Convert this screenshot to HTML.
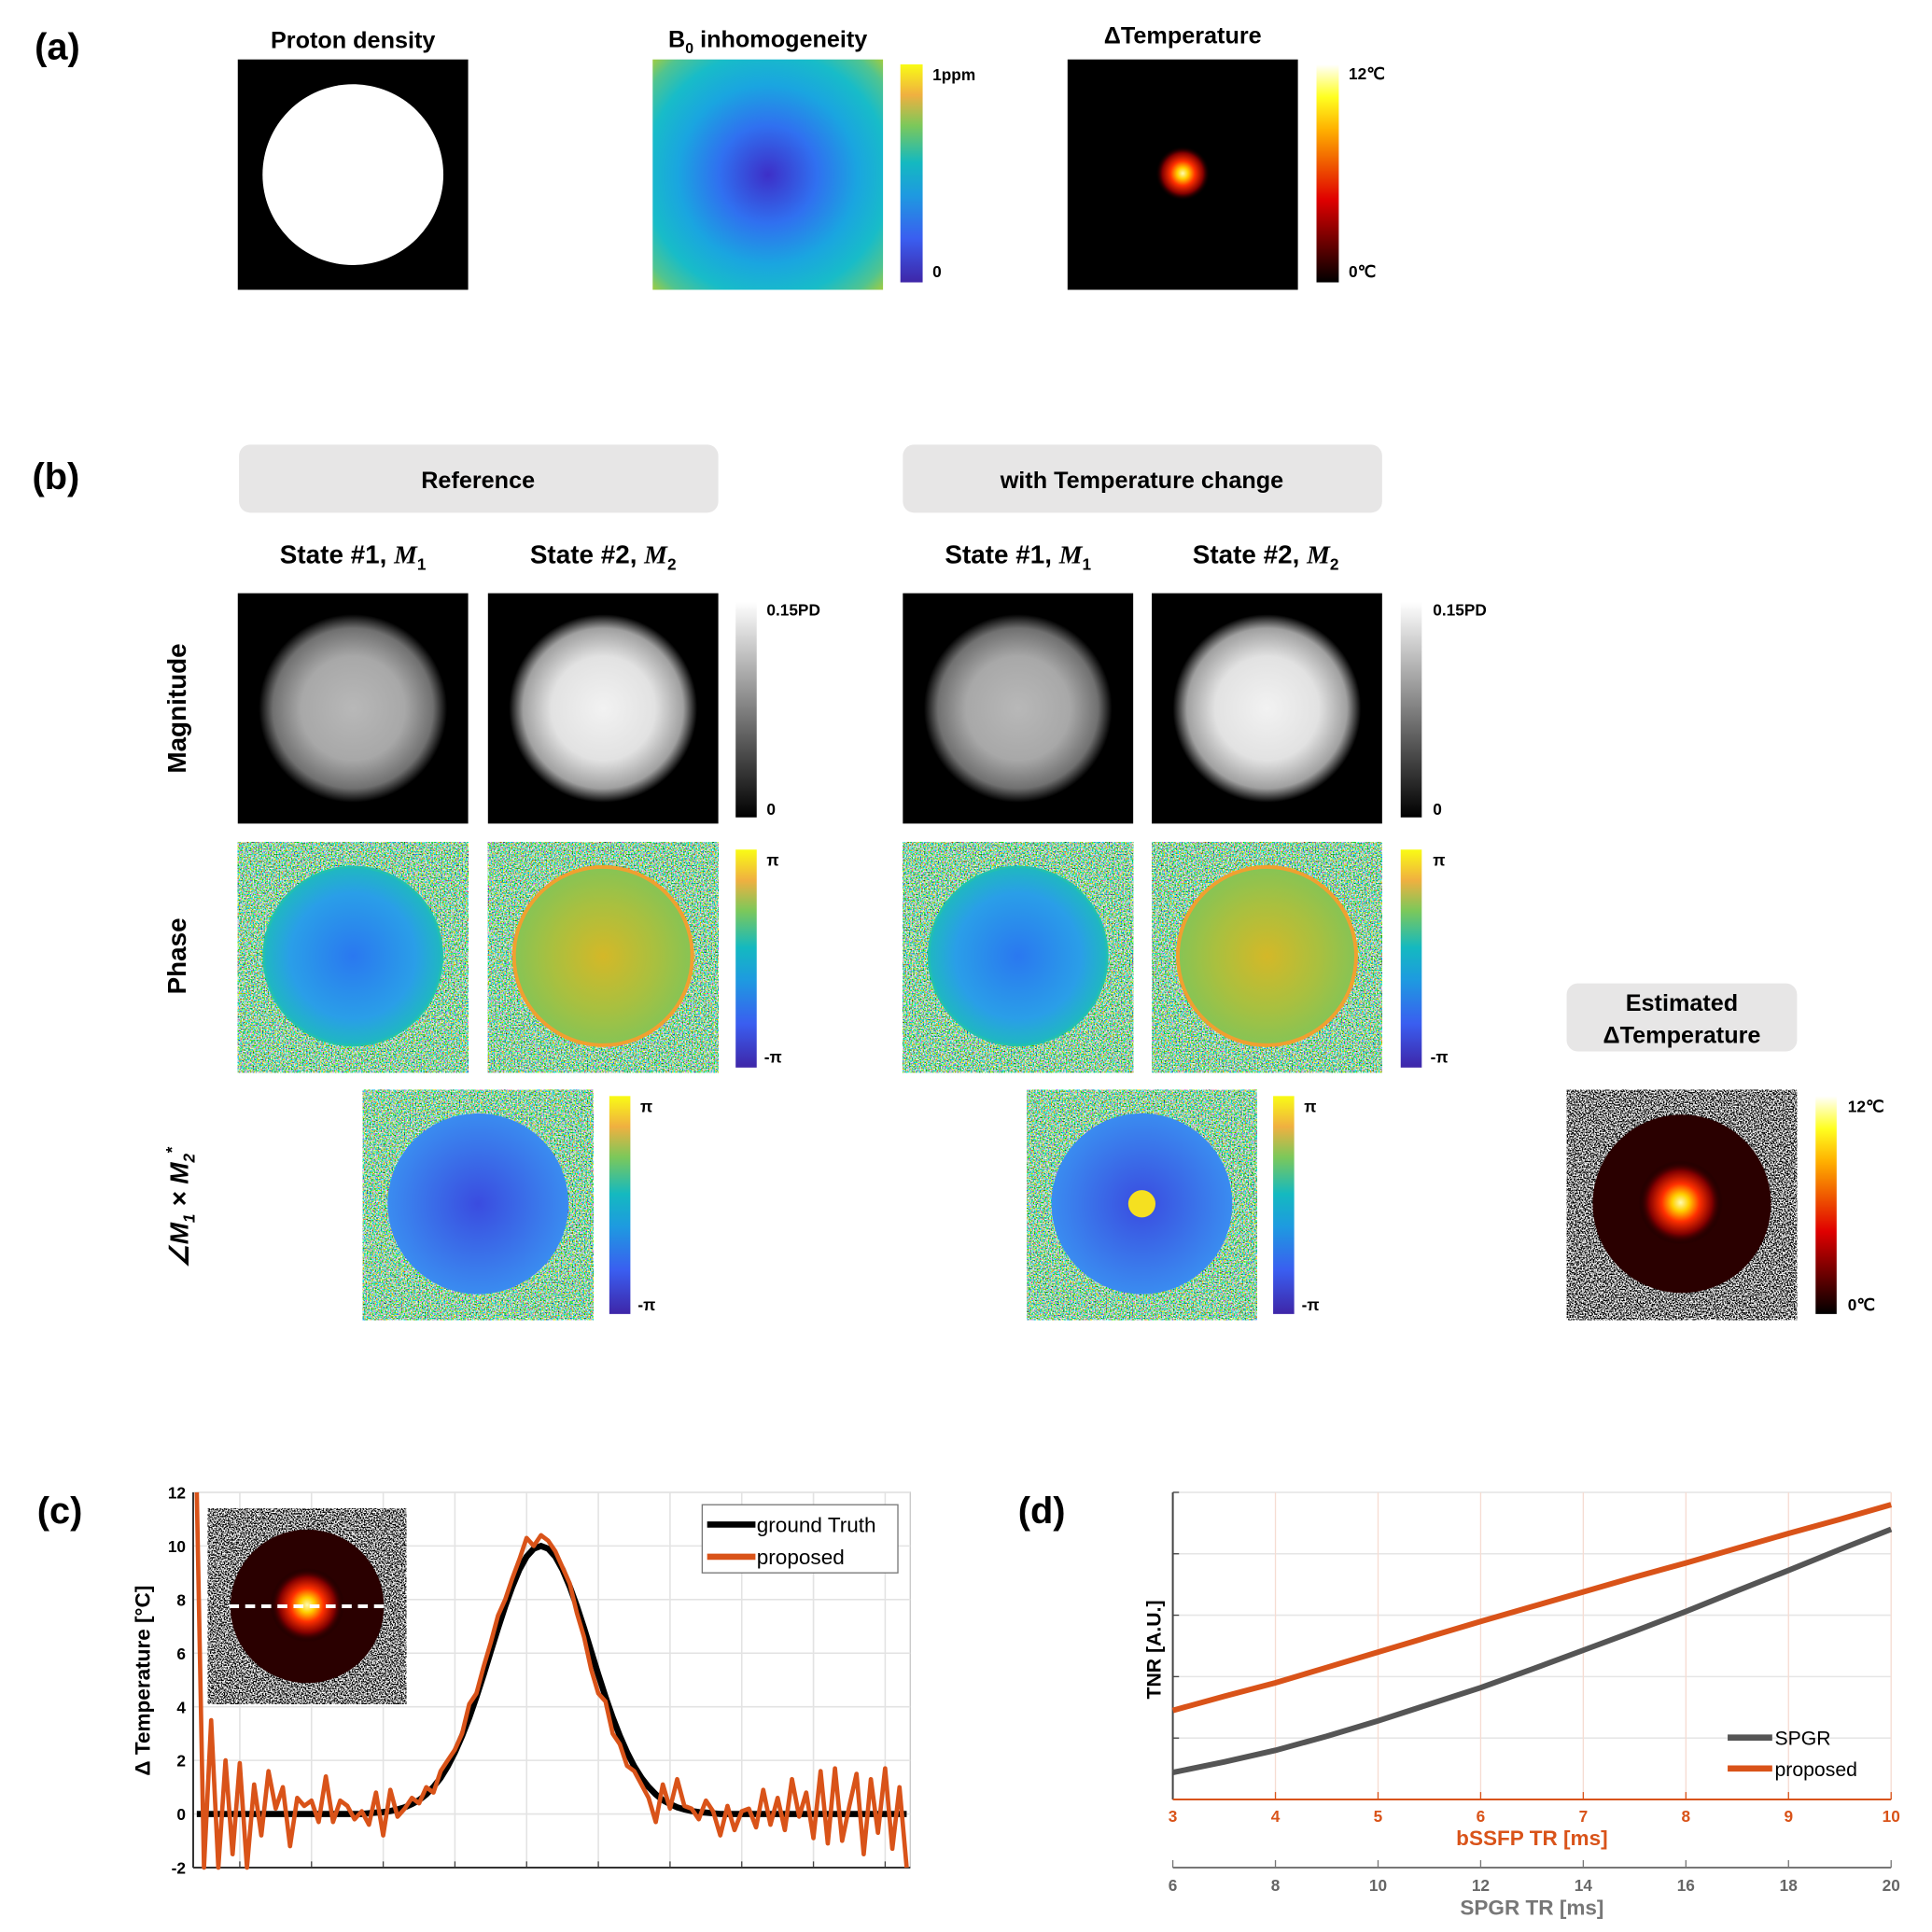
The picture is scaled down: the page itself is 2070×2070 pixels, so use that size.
<!DOCTYPE html>
<html><head><meta charset="utf-8"><style>
html,body{margin:0;padding:0;background:#fff;}
svg{display:block;}
text{font-family:"Liberation Sans",sans-serif;}
.b{font-weight:bold;}
</style></head><body>
<svg id="fig" width="2070" height="2070" viewBox="0 0 1560 1560" xmlns="http://www.w3.org/2000/svg">
<defs>
<linearGradient id="parula" x1="0" y1="1" x2="0" y2="0">
<stop offset="0" stop-color="#3e26a8"/><stop offset="0.2" stop-color="#3a5ef0"/><stop offset="0.4" stop-color="#1e9ae0"/><stop offset="0.55" stop-color="#14b9c0"/><stop offset="0.72" stop-color="#7cc85a"/><stop offset="0.86" stop-color="#f0b040"/><stop offset="1" stop-color="#f9fb15"/></linearGradient>
<linearGradient id="hot" x1="0" y1="1" x2="0" y2="0">
<stop offset="0" stop-color="#000"/><stop offset="0.38" stop-color="#e00000"/><stop offset="0.7" stop-color="#ffb000"/><stop offset="0.85" stop-color="#ffff20"/><stop offset="1" stop-color="#fff"/></linearGradient>
<linearGradient id="gray" x1="0" y1="1" x2="0" y2="0"><stop offset="0" stop-color="#000"/><stop offset="1" stop-color="#fff"/></linearGradient>
<radialGradient id="b0g" cx="0.5" cy="0.5" r="0.707">
<stop offset="0" stop-color="#3d2fc8"/><stop offset="0.3" stop-color="#3070f0"/><stop offset="0.55" stop-color="#1aa5e0"/><stop offset="0.75" stop-color="#18bcc8"/><stop offset="0.9" stop-color="#50c490"/><stop offset="1" stop-color="#a0cc40"/></radialGradient>
<radialGradient id="hotspot"><stop offset="0" stop-color="#fffbb0"/><stop offset="0.2" stop-color="#ffd000"/><stop offset="0.45" stop-color="#ff3000"/><stop offset="0.75" stop-color="#800000"/><stop offset="1" stop-color="#000" stop-opacity="0"/></radialGradient>
<radialGradient id="mag1"><stop offset="0" stop-color="#b8b8b8"/><stop offset="0.55" stop-color="#a8a8a8"/><stop offset="0.85" stop-color="#707070"/><stop offset="1" stop-color="#000"/></radialGradient>
<radialGradient id="mag2"><stop offset="0" stop-color="#f2f2f2"/><stop offset="0.55" stop-color="#e2e2e2"/><stop offset="0.85" stop-color="#a0a0a0"/><stop offset="1" stop-color="#000"/></radialGradient>
<radialGradient id="ph1"><stop offset="0" stop-color="#2a78f0"/><stop offset="0.7" stop-color="#2a9ee8"/><stop offset="1" stop-color="#1fb8c0"/></radialGradient>
<radialGradient id="ph2"><stop offset="0" stop-color="#d4b828"/><stop offset="0.6" stop-color="#a8c040"/><stop offset="1" stop-color="#86c455"/></radialGradient>
<radialGradient id="ph3"><stop offset="0" stop-color="#3a4ce0"/><stop offset="1" stop-color="#3a8cf0"/></radialGradient>
<filter id="nParula" x="0" y="0" width="1" height="1"><feTurbulence type="fractalNoise" baseFrequency="0.9" numOctaves="1" seed="3"/><feColorMatrix type="matrix" values="3.5 0 0 0 -1.4  0 2.5 0 0 -0.6  0 0 3.5 0 -1.3  0 0 0 0 1"/></filter>
<filter id="nBW" x="0" y="0" width="1" height="1"><feTurbulence type="fractalNoise" baseFrequency="0.9" numOctaves="1" seed="7"/><feColorMatrix type="matrix" values="5 0 0 0 -2.2  5 0 0 0 -2.2  5 0 0 0 -2.2  0 0 0 0 1"/></filter>
</defs>

<!-- (a) -->
<text x="28" y="48" font-size="30" class="b">(a)</text>
<g>
<text x="285" y="39" font-size="19" class="b" text-anchor="middle">Proton density</text>
<rect x="192" y="48" width="186" height="186" fill="#000"/><circle cx="285" cy="141" r="73" fill="#fff"/></g>
<g>
<text x="620" y="38" font-size="19" class="b" text-anchor="middle">B<tspan font-size="12" dy="5">0</tspan><tspan dy="-5"> inhomogeneity</tspan></text>
<rect x="527" y="48" width="186" height="186" fill="url(#b0g)"/>
<rect x="727" y="52" width="18" height="176" fill="url(#parula)"/>
<text x="753" y="65" font-size="13" class="b">1ppm</text>
<text x="753" y="224" font-size="13" class="b">0</text></g>
<g>
<text x="955" y="35" font-size="19" class="b" text-anchor="middle">ΔTemperature</text>
<rect x="862" y="48" width="186" height="186" fill="#000"/><circle cx="955" cy="140" r="22" fill="url(#hotspot)"/>
<rect x="1063" y="52" width="18" height="176" fill="url(#hot)"/>
<text x="1089" y="64" font-size="13" class="b">12℃</text>
<text x="1089" y="224" font-size="13" class="b">0℃</text></g>

<!-- (b) -->
<text x="26" y="395" font-size="30" class="b">(b)</text>
<rect x="193" y="359" width="387" height="55" rx="9" fill="#e7e6e6"/>
<text x="386" y="394" font-size="19" class="b" text-anchor="middle">Reference</text>
<rect x="729" y="359" width="387" height="55" rx="9" fill="#e7e6e6"/>
<text x="922" y="394" font-size="19" class="b" text-anchor="middle">with Temperature change</text>
<g font-size="21" class="b" text-anchor="middle">
<text x="285" y="455">State #1, <tspan font-family="Liberation Serif" font-style="italic">M</tspan><tspan font-size="13" dy="5">1</tspan></text>
<text x="487" y="455">State #2, <tspan font-family="Liberation Serif" font-style="italic">M</tspan><tspan font-size="13" dy="5">2</tspan></text>
<text x="822" y="455">State #1, <tspan font-family="Liberation Serif" font-style="italic">M</tspan><tspan font-size="13" dy="5">1</tspan></text>
<text x="1022" y="455">State #2, <tspan font-family="Liberation Serif" font-style="italic">M</tspan><tspan font-size="13" dy="5">2</tspan></text>
</g>
<g font-size="21" class="b" text-anchor="middle">
<text transform="translate(150,572) rotate(-90)">Magnitude</text>
<text transform="translate(150,772) rotate(-90)">Phase</text>
<text transform="translate(152,975) rotate(-90)" font-family="Liberation Serif" font-style="italic">∠M<tspan font-size="13" dy="5">1</tspan><tspan dy="-5"> × M</tspan><tspan font-size="13" dy="5">2</tspan><tspan font-size="13" dy="-14">*</tspan></text>
</g>

<g>
<rect x="192" y="479" width="186" height="186" fill="#000"/><circle cx="285" cy="572" r="76" fill="url(#mag1)"/>
<rect x="394" y="479" width="186" height="186" fill="#000"/><circle cx="487" cy="572" r="76" fill="url(#mag2)"/>
<rect x="729" y="479" width="186" height="186" fill="#000"/><circle cx="822" cy="572" r="76" fill="url(#mag1)"/>
<rect x="930" y="479" width="186" height="186" fill="#000"/><circle cx="1023" cy="572" r="76" fill="url(#mag2)"/>
<rect x="594" y="486" width="17" height="174" fill="url(#gray)"/><rect x="1131" y="486" width="17" height="174" fill="url(#gray)"/>
<g font-size="13" class="b"><text x="619" y="497">0.15PD</text><text x="619" y="658">0</text><text x="1157" y="497">0.15PD</text><text x="1157" y="658">0</text></g>
</g>
<g>
<rect x="192" y="680" width="186" height="186" filter="url(#nParula)"/><circle cx="285" cy="772" r="72" fill="url(#ph1)" stroke="#22c0b0" stroke-width="2"/>
<rect x="394" y="680" width="186" height="186" filter="url(#nParula)"/><circle cx="487" cy="772" r="72" fill="url(#ph2)" stroke="#f0a030" stroke-width="3"/>
<rect x="729" y="680" width="186" height="186" filter="url(#nParula)"/><circle cx="822" cy="772" r="72" fill="url(#ph1)" stroke="#22c0b0" stroke-width="2"/>
<rect x="930" y="680" width="186" height="186" filter="url(#nParula)"/><circle cx="1023" cy="772" r="72" fill="url(#ph2)" stroke="#f0a030" stroke-width="3"/>
<rect x="594" y="686" width="17" height="176" fill="url(#parula)"/><rect x="1131" y="686" width="17" height="176" fill="url(#parula)"/>
<g font-size="13" class="b"><text x="619" y="699">π</text><text x="617" y="858">-π</text><text x="1157" y="699">π</text><text x="1155" y="858">-π</text></g>
</g>
<g>
<rect x="293" y="880" width="186" height="186" filter="url(#nParula)"/><circle cx="386" cy="972" r="73" fill="url(#ph3)"/>
<rect x="829" y="880" width="186" height="186" filter="url(#nParula)"/><circle cx="922" cy="972" r="73" fill="url(#ph3)"/><circle cx="922" cy="972" r="11" fill="#f5e020"/>
<rect x="492" y="885" width="17" height="176" fill="url(#parula)"/><rect x="1028" y="885" width="17" height="176" fill="url(#parula)"/>
<g font-size="13" class="b"><text x="517" y="898">π</text><text x="515" y="1058">-π</text><text x="1053" y="898">π</text><text x="1051" y="1058">-π</text></g>
</g>
<g>
<rect x="1265" y="794" width="186" height="55" rx="9" fill="#e7e6e6"/>
<text x="1358" y="816" font-size="19" class="b" text-anchor="middle">Estimated</text>
<text x="1358" y="842" font-size="19" class="b" text-anchor="middle">ΔTemperature</text>
<rect x="1265" y="880" width="186" height="186" filter="url(#nBW)"/>
<circle cx="1358" cy="972" r="72" fill="#2a0000"/><circle cx="1357" cy="971" r="34" fill="url(#hotspot)"/>
<rect x="1466" y="885" width="17" height="176" fill="url(#hot)"/>
<g font-size="13" class="b"><text x="1492" y="898">12℃</text><text x="1492" y="1058">0℃</text></g>
</g>

<text x="30" y="1230" font-size="30" class="b">(c)</text>
<g id="chartC"></g>
<text x="822" y="1230" font-size="30" class="b">(d)</text>
<g id="chartD"></g>
</svg>
<script>
// ---- chart (c) data ----
const cYTicks = [-2,0,2,4,6,8,10,12];
const cXGrid = [0,20,40,60,80,100,120,140,160,180];
const groundTruth = [0,0,0,0,0,0,0,0,0,0,0,0,0,0,0,0,0,0,0,0,0,0,0,0,
0.03,0.05,0.07,0.11,0.17,0.25,0.37,0.52,0.73,1.01,1.35,1.78,2.30,2.91,3.60,4.37,5.20,6.07,6.93,7.75,8.49,9.12,9.6,9.9,10,
9.9,9.6,9.12,8.49,7.75,6.93,6.07,5.20,4.37,3.60,2.91,2.30,1.78,1.35,1.01,0.73,0.52,0.37,0.25,0.17,0.11,0.07,0.05,0.03,
0,0,0,0,0,0,0,0,0,0,0,0,0,0,0,0,0,0,0,0,0,0,0,0,0,0,0];
const proposed = [12,-2.2,3.5,-2,2.0,-1.5,1.9,-2.1,1.1,-0.8,1.6,0.2,1.0,-1.2,0.6,0.3,0.5,-0.3,1.4,-0.3,0.5,0.3,-0.2,0.1,-0.4,0.8,-0.8,0.9,-0.1,
0.2,0.6,0.4,1.0,0.8,1.6,2.0,2.4,3.0,4.1,4.5,5.5,6.4,7.4,8.0,8.8,9.5,10.3,10.0,10.4,10.2,9.8,9.2,8.6,7.5,6.6,5.4,4.5,4.2,3.0,2.6,1.8,1.6,1.1,0.6,-0.3,1.1,0.2,1.3,0.3,0.2,-0.2,0.5,0.1,-0.8,0.3,-0.6,0.1,0.2,-0.5,0.9,-0.4,0.6,-0.6,1.3,-0.1,0.8,-0.9,1.6,-1.1,1.7,-1.0,0.3,1.5,-1.5,1.3,-0.7,1.7,-1.3,1.0,-2.0];
// ---- chart (d) data ----
const dX = [3,3.5,4,4.5,5,5.5,6,6.5,7,7.5,8,8.5,9,9.5,10];
const dTopTicks = [3,4,5,6,7,8,9,10];
const dSpgrTicks = [6,8,10,12,14,16,18,20];
const spgr = [0.44,0.61,0.8,1.03,1.28,1.55,1.82,2.12,2.43,2.74,3.06,3.4,3.73,4.07,4.4];
const tnrProposed = [1.45,1.68,1.9,2.15,2.4,2.65,2.9,3.14,3.38,3.62,3.85,4.09,4.33,4.56,4.8];

const NS="http://www.w3.org/2000/svg";
function mk(tag,attrs,parent){const e=document.createElementNS(NS,tag);for(const k in attrs)e.setAttribute(k,attrs[k]);parent.appendChild(e);return e;}

(function(){
const g=document.getElementById('chartC');
const L=156,R=735,T=1205,B=1508;
const xs=v=>L+(v+13)/200*(R-L);
const ys=v=>B-(v+2)/14*(B-T);
mk('rect',{x:L,y:T,width:R-L,height:B-T,fill:'#fff',stroke:'#c8c8c8','stroke-width':1},g);
cYTicks.forEach(t=>{const l=mk('line',{x1:L,x2:R,y1:ys(t),y2:ys(t),stroke:'#e3e3e3','stroke-width':1.2},g);


const tx=mk('text',{x:L-6,y:ys(t)+5,'font-size':13,'font-weight':'bold','text-anchor':'end'},g);tx.textContent=t;

});
cXGrid.forEach(t=>{const l=mk('line',{x1:xs(t),x2:xs(t),y1:T,y2:B,stroke:'#e3e3e3','stroke-width':1.2},g);


mk('line',{x1:xs(t),x2:xs(t),y1:B,y2:B-5,stroke:'#444'},g);});
mk('line',{x1:L,x2:L,y1:T,y2:B,stroke:'#333','stroke-width':1.5},g);
mk('line',{x1:L,x2:R,y1:B,y2:B,stroke:'#333','stroke-width':1.5},g);
const yl=mk('text',{transform:'translate(121,1357) rotate(-90)','font-size':17,'font-weight':'bold','text-anchor':'middle'},g);yl.textContent='Δ Temperature   [°C]';


const pts=a=>a.map((v,i)=>xs(-12+2*i).toFixed(1)+','+ys(Math.max(-2,Math.min(12,v))).toFixed(1)).join(' ');
const gt=mk('polyline',{points:pts(groundTruth),fill:'none',stroke:'#000','stroke-width':5},g);


const pr=mk('polyline',{points:pts(proposed),fill:'none',stroke:'#d95319','stroke-width':3.5,'stroke-linejoin':'round'},g);


const ins=mk('g',{},g);


mk('rect',{x:168,y:1218,width:160,height:158,filter:'url(#nBW)'},ins);
mk('circle',{cx:248,cy:1297,r:62,fill:'#2a0000'},ins);
mk('circle',{cx:248,cy:1296,r:30,fill:'url(#hotspot)'},ins);
mk('line',{x1:185,x2:312,y1:1297,y2:1297,stroke:'#fff','stroke-width':3,'stroke-dasharray':'8,5'},ins);
const lg=mk('g',{},g);


mk('rect',{x:567,y:1215,width:158,height:55,fill:'#fff',stroke:'#777','stroke-width':1},lg);
mk('line',{x1:571,x2:610,y1:1231,y2:1231,stroke:'#000','stroke-width':5},lg);
mk('line',{x1:571,x2:610,y1:1257,y2:1257,stroke:'#d95319','stroke-width':5},lg);
const t1=mk('text',{x:611,y:1237,'font-size':17},lg);t1.textContent='ground Truth';
const t2=mk('text',{x:611,y:1263,'font-size':17},lg);t2.textContent='proposed';
})();

(function(){
const g=document.getElementById('chartD');
const L=947,R=1527,T=1205,B=1453;
const xs=v=>L+(v-3)/7*(R-L);
const ys=v=>B-v/5*(B-T);
[0,1,2,3,4,5].forEach(t=>{const l=mk('line',{x1:L,x2:R,y1:ys(t),y2:ys(t),stroke:'#e6e6e6','stroke-width':1.2},g);


mk('line',{x1:L,x2:L+5,y1:ys(t),y2:ys(t),stroke:'#444'},g);});
dTopTicks.forEach(t=>{const l=mk('line',{x1:xs(t),x2:xs(t),y1:T,y2:B,stroke:'#f6dcd2','stroke-width':1},g);


mk('line',{x1:xs(t),x2:xs(t),y1:B,y2:B-6,stroke:'#d95319'},g);
const tx=mk('text',{x:xs(t),y:B+18,'font-size':13,'font-weight':'bold',fill:'#d95319','text-anchor':'middle'},g);tx.textContent=t;

});
mk('line',{x1:L,x2:L,y1:T,y2:B,stroke:'#444','stroke-width':1.5},g);
mk('line',{x1:L,x2:R,y1:B,y2:B,stroke:'#d95319','stroke-width':1.5},g);
const xt=mk('text',{x:1237,y:1490,'font-size':17,'font-weight':'bold',fill:'#d95319','text-anchor':'middle'},g);xt.textContent='bSSFP TR   [ms]';


const SB=1508;
mk('line',{x1:L,x2:R,y1:SB,y2:SB,stroke:'#777','stroke-width':1.5},g);
dSpgrTicks.forEach(t=>{const x=L+(t-6)/14*(R-L);mk('line',{x1:x,x2:x,y1:SB,y2:SB-6,stroke:'#777'},g);
const tx=mk('text',{x:x,y:SB+19,'font-size':13,'font-weight':'bold',fill:'#666','text-anchor':'middle'},g);tx.textContent=t;

});
const st=mk('text',{x:1237,y:1546,'font-size':17,'font-weight':'bold',fill:'#777','text-anchor':'middle'},g);st.textContent='SPGR TR   [ms]';


const yl=mk('text',{transform:'translate(937,1332) rotate(-90)','font-size':16,'font-weight':'bold','text-anchor':'middle'},g);yl.textContent='TNR   [A.U.]';


const pts=a=>a.map((v,i)=>xs(dX[i]).toFixed(1)+','+ys(v).toFixed(1)).join(' ');
const s=mk('polyline',{points:pts(spgr),fill:'none',stroke:'#555','stroke-width':4.5},g);


const p=mk('polyline',{points:pts(tnrProposed),fill:'none',stroke:'#d95319','stroke-width':4.5},g);


const lg=mk('g',{},g);


mk('line',{x1:1395,x2:1431,y1:1403,y2:1403,stroke:'#555','stroke-width':5},lg);
mk('line',{x1:1395,x2:1431,y1:1428,y2:1428,stroke:'#d95319','stroke-width':5},lg);
const a=mk('text',{x:1433,y:1409,'font-size':16},lg);a.textContent='SPGR';
const b=mk('text',{x:1433,y:1434,'font-size':16},lg);b.textContent='proposed';
})();
</script>
</body></html>
